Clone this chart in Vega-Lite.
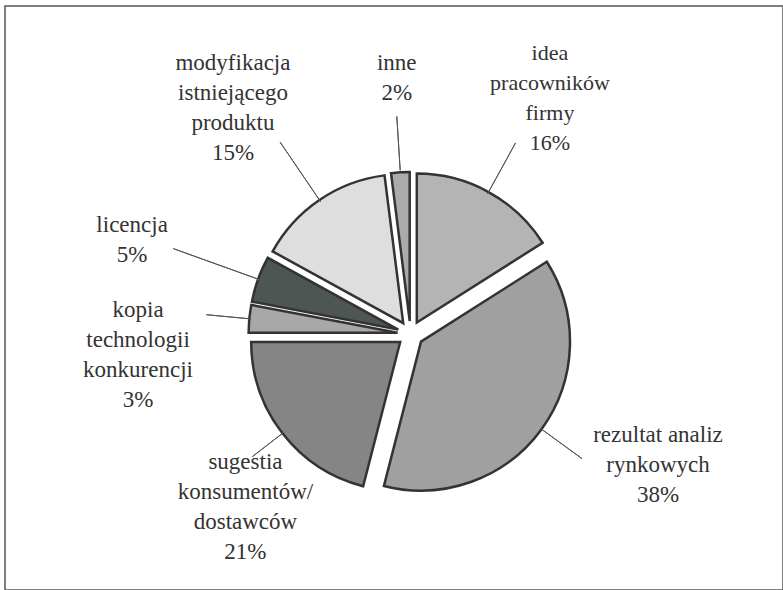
{
  "$schema": "https://vega.github.io/schema/vega-lite/v6.json",
  "width": 778,
  "height": 584,
  "autosize": "none",
  "padding": {"left": 5, "top": 6, "right": 0, "bottom": 0},
  "config": {"view": {"stroke": null}},
  "data": {
    "values": [
      {"idx": 1, "label": "idea pracowników firmy", "lines": "idea\npracowników\nfirmy\n16%", "value": 16},
      {"idx": 2, "label": "rezultat analiz rynkowych", "lines": "rezultat analiz\nrynkowych\n38%", "value": 38},
      {"idx": 3, "label": "sugestia konsumentów/dostawców", "lines": "sugestia\nkonsumentów/\ndostawców\n21%", "value": 21},
      {"idx": 4, "label": "kopia technologii konkurencji", "lines": "kopia\ntechnologii\nkonkurencji\n3%", "value": 3},
      {"idx": 5, "label": "licencja", "lines": "licencja\n5%", "value": 5},
      {"idx": 6, "label": "modyfikacja istniejącego produktu", "lines": "modyfikacja\nistniejącego\nproduktu\n15%", "value": 15},
      {"idx": 7, "label": "inne", "lines": "inne\n2%", "value": 2}
    ]
  },
  "transform": [
    {"stack": "value", "groupby": [], "sort": [{"field": "idx", "order": "ascending"}], "as": ["s0", "s1"]},
    {"fold": ["s0", "s1"], "as": ["edge", "pos"]},
    {"aggregate": [{"op": "mean", "field": "pos", "as": "mid"}, {"op": "min", "field": "pos", "as": "a0"}, {"op": "max", "field": "pos", "as": "a1"}], "groupby": ["idx", "label", "lines", "value"]}
  ],
  "layer": [
    {
      "transform": [{"filter": "datum.idx == 1"}],
      "mark": {"type": "rect", "fill": null, "filled": false, "stroke": "#555555", "strokeWidth": 1.5}
    },
    {
      "transform": [{"filter": "datum.idx == 1"}],
      "layer": [
        {"mark": {"type": "arc", "radius": 149, "stroke": "#333333", "strokeWidth": 2.5, "xOffset": 22.8, "yOffset": 24.6},
         "encoding": {"theta": {"field": "a0", "type": "quantitative", "scale": {"domain": [0, 100]}}, "theta2": {"field": "a1"},
           "color": {"field": "label", "type": "nominal", "legend": null, "scale": {"domain": ["idea pracowników firmy", "rezultat analiz rynkowych", "sugestia konsumentów/dostawców", "kopia technologii konkurencji", "licencja", "modyfikacja istniejącego produktu", "inne"], "range": ["#b4b4b4", "#a0a0a0", "#858585", "#a8a8a8", "#4e5654", "#dedede", "#ababab"]}}}},
        {"mark": {"type": "arc", "filled": false, "radius": 218, "radius2": 160, "stroke": "#555555", "strokeWidth": 1, "xOffset": 16.5, "yOffset": 36},
         "encoding": {"theta": {"field": "mid", "type": "quantitative"}, "theta2": {"field": "mid"}}}
      ]
    },
    {
      "transform": [{"filter": "datum.idx == 2"}],
      "layer": [
        {"mark": {"type": "arc", "radius": 149, "stroke": "#333333", "strokeWidth": 2.5, "xOffset": 27.0, "yOffset": 43.6},
         "encoding": {"theta": {"field": "a0", "type": "quantitative", "scale": {"domain": [0, 100]}}, "theta2": {"field": "a1"},
           "color": {"field": "label", "type": "nominal", "legend": null, "scale": {"domain": ["idea pracowników firmy", "rezultat analiz rynkowych", "sugestia konsumentów/dostawców", "kopia technologii konkurencji", "licencja", "modyfikacja istniejącego produktu", "inne"], "range": ["#b4b4b4", "#a0a0a0", "#858585", "#a8a8a8", "#4e5654", "#dedede", "#ababab"]}}}},
        {"mark": {"type": "arc", "filled": false, "radius": 212, "radius2": 160, "stroke": "#555555", "strokeWidth": 1, "xOffset": 16.5, "yOffset": 36},
         "encoding": {"theta": {"field": "mid", "type": "quantitative"}, "theta2": {"field": "mid"}}}
      ]
    },
    {
      "transform": [{"filter": "datum.idx == 3"}],
      "layer": [
        {"mark": {"type": "arc", "radius": 149, "stroke": "#333333", "strokeWidth": 2.5, "xOffset": 6.2, "yOffset": 44.0},
         "encoding": {"theta": {"field": "a0", "type": "quantitative", "scale": {"domain": [0, 100]}}, "theta2": {"field": "a1"},
           "color": {"field": "label", "type": "nominal", "legend": null, "scale": {"domain": ["idea pracowników firmy", "rezultat analiz rynkowych", "sugestia konsumentów/dostawców", "kopia technologii konkurencji", "licencja", "modyfikacja istniejącego produktu", "inne"], "range": ["#b4b4b4", "#a0a0a0", "#858585", "#a8a8a8", "#4e5654", "#dedede", "#ababab"]}}}},
        {"mark": {"type": "arc", "filled": false, "radius": 200, "radius2": 160, "stroke": "#555555", "strokeWidth": 1, "xOffset": 16.5, "yOffset": 36},
         "encoding": {"theta": {"field": "mid", "type": "quantitative"}, "theta2": {"field": "mid"}}}
      ]
    },
    {
      "transform": [{"filter": "datum.idx == 4"}],
      "layer": [
        {"mark": {"type": "arc", "radius": 149, "stroke": "#333333", "strokeWidth": 2.5, "xOffset": 3.6, "yOffset": 34.8},
         "encoding": {"theta": {"field": "a0", "type": "quantitative", "scale": {"domain": [0, 100]}}, "theta2": {"field": "a1"},
           "color": {"field": "label", "type": "nominal", "legend": null, "scale": {"domain": ["idea pracowników firmy", "rezultat analiz rynkowych", "sugestia konsumentów/dostawców", "kopia technologii konkurencji", "licencja", "modyfikacja istniejącego produktu", "inne"], "range": ["#b4b4b4", "#a0a0a0", "#858585", "#a8a8a8", "#4e5654", "#dedede", "#ababab"]}}}},
        {"mark": {"type": "arc", "filled": false, "radius": 205, "radius2": 160, "stroke": "#555555", "strokeWidth": 1, "xOffset": 16.5, "yOffset": 36},
         "encoding": {"theta": {"field": "mid", "type": "quantitative"}, "theta2": {"field": "mid"}}}
      ]
    },
    {
      "transform": [{"filter": "datum.idx == 5"}],
      "layer": [
        {"mark": {"type": "arc", "radius": 149, "stroke": "#333333", "strokeWidth": 2.5, "xOffset": 4.3, "yOffset": 31.6},
         "encoding": {"theta": {"field": "a0", "type": "quantitative", "scale": {"domain": [0, 100]}}, "theta2": {"field": "a1"},
           "color": {"field": "label", "type": "nominal", "legend": null, "scale": {"domain": ["idea pracowników firmy", "rezultat analiz rynkowych", "sugestia konsumentów/dostawców", "kopia technologii konkurencji", "licencja", "modyfikacja istniejącego produktu", "inne"], "range": ["#b4b4b4", "#a0a0a0", "#858585", "#a8a8a8", "#4e5654", "#dedede", "#ababab"]}}}},
        {"mark": {"type": "arc", "filled": false, "radius": 252, "radius2": 160, "stroke": "#555555", "strokeWidth": 1, "xOffset": 16.5, "yOffset": 36},
         "encoding": {"theta": {"field": "mid", "type": "quantitative"}, "theta2": {"field": "mid"}}}
      ]
    },
    {
      "transform": [{"filter": "datum.idx == 6"}],
      "layer": [
        {"mark": {"type": "arc", "radius": 149, "stroke": "#333333", "strokeWidth": 2.5, "xOffset": 9.2, "yOffset": 25.2},
         "encoding": {"theta": {"field": "a0", "type": "quantitative", "scale": {"domain": [0, 100]}}, "theta2": {"field": "a1"},
           "color": {"field": "label", "type": "nominal", "legend": null, "scale": {"domain": ["idea pracowników firmy", "rezultat analiz rynkowych", "sugestia konsumentów/dostawców", "kopia technologii konkurencji", "licencja", "modyfikacja istniejącego produktu", "inne"], "range": ["#b4b4b4", "#a0a0a0", "#858585", "#a8a8a8", "#4e5654", "#dedede", "#ababab"]}}}},
        {"mark": {"type": "arc", "filled": false, "radius": 232, "radius2": 160, "stroke": "#555555", "strokeWidth": 1, "xOffset": 16.5, "yOffset": 36},
         "encoding": {"theta": {"field": "mid", "type": "quantitative"}, "theta2": {"field": "mid"}}}
      ]
    },
    {
      "transform": [{"filter": "datum.idx == 7"}],
      "layer": [
        {"mark": {"type": "arc", "radius": 149, "stroke": "#333333", "strokeWidth": 2.5, "xOffset": 15.7, "yOffset": 23.0},
         "encoding": {"theta": {"field": "a0", "type": "quantitative", "scale": {"domain": [0, 100]}}, "theta2": {"field": "a1"},
           "color": {"field": "label", "type": "nominal", "legend": null, "scale": {"domain": ["idea pracowników firmy", "rezultat analiz rynkowych", "sugestia konsumentów/dostawców", "kopia technologii konkurencji", "licencja", "modyfikacja istniejącego produktu", "inne"], "range": ["#b4b4b4", "#a0a0a0", "#858585", "#a8a8a8", "#4e5654", "#dedede", "#ababab"]}}}},
        {"mark": {"type": "arc", "filled": false, "radius": 218, "radius2": 164, "stroke": "#555555", "strokeWidth": 1, "xOffset": 16.5, "yOffset": 36},
         "encoding": {"theta": {"field": "mid", "type": "quantitative"}, "theta2": {"field": "mid"}}}
      ]
    },
    {"transform": [{"filter": "datum.idx == 1"}],
     "mark": {"type": "text", "font": "Liberation Serif", "fontSize": 22, "lineHeight": 30, "lineBreak": "\n", "baseline": "middle", "radius": 313.7, "thetaOffset": -0.042, "xOffset": 16.5, "yOffset": 36},
     "encoding": {"theta": {"field": "mid", "type": "quantitative"}, "text": {"field": "lines"}, "color": {"value": "#333333"}}},
    {"transform": [{"filter": "datum.idx == 2"}],
     "mark": {"type": "text", "font": "Liberation Serif", "fontSize": 23, "lineHeight": 30, "lineBreak": "\n", "radius": 267.3, "thetaOffset": -0.241, "xOffset": 16.5, "yOffset": 36},
     "encoding": {"theta": {"field": "mid", "type": "quantitative"}, "text": {"field": "lines"}, "color": {"value": "#333333"}}},
    {"transform": [{"filter": "datum.idx == 3"}],
     "mark": {"type": "text", "font": "Liberation Serif", "fontSize": 23, "lineHeight": 30, "lineBreak": "\n", "baseline": "middle", "radius": 208.9, "xOffset": 16.5, "yOffset": 36},
     "encoding": {"theta": {"field": "mid", "type": "quantitative"}, "text": {"field": "lines"}, "color": {"value": "#333333"}}},
    {"transform": [{"filter": "datum.idx == 4"}],
     "mark": {"type": "text", "font": "Liberation Serif", "fontSize": 23, "lineHeight": 30, "lineBreak": "\n", "baseline": "middle", "radius": 273.5, "thetaOffset": -0.007, "xOffset": 16.5, "yOffset": 36},
     "encoding": {"theta": {"field": "mid", "type": "quantitative"}, "text": {"field": "lines"}, "color": {"value": "#333333"}}},
    {"transform": [{"filter": "datum.idx == 5"}],
     "mark": {"type": "text", "font": "Liberation Serif", "fontSize": 23, "lineHeight": 30, "lineBreak": "\n", "baseline": "middle", "radius": 299, "thetaOffset": 0.028, "xOffset": 16.5, "yOffset": 36},
     "encoding": {"theta": {"field": "mid", "type": "quantitative"}, "text": {"field": "lines"}, "color": {"value": "#333333"}}},
    {"transform": [{"filter": "datum.idx == 6"}],
     "mark": {"type": "text", "font": "Liberation Serif", "fontSize": 23, "lineHeight": 30, "lineBreak": "\n", "baseline": "middle", "radius": 324, "thetaOffset": 0.017, "xOffset": 16.5, "yOffset": 36},
     "encoding": {"theta": {"field": "mid", "type": "quantitative"}, "text": {"field": "lines"}, "color": {"value": "#333333"}}},
    {"transform": [{"filter": "datum.idx == 7"}],
     "mark": {"type": "text", "font": "Liberation Serif", "fontSize": 23, "lineHeight": 30, "lineBreak": "\n", "baseline": "middle", "radius": 271.3, "thetaOffset": 0.012, "xOffset": 16.5, "yOffset": 36},
     "encoding": {"theta": {"field": "mid", "type": "quantitative"}, "text": {"field": "lines"}, "color": {"value": "#333333"}}}
  ]
}
